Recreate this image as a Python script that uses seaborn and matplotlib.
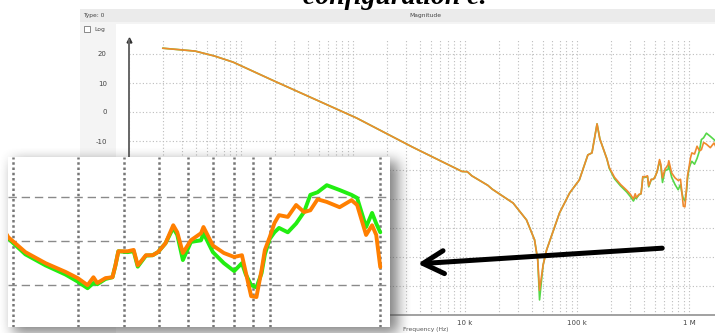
import matplotlib
matplotlib.use("Agg")
import matplotlib.pyplot as plt
import numpy as np
import pandas as pd
import seaborn as sns
from matplotlib.patches import Rectangle, FancyArrowPatch
from matplotlib.ticker import FixedLocator, LogLocator, NullFormatter

# ---------------------------------------------------------------- data
freq_hz = [
    20, 39, 58, 85, 190, 1.08e3, 3.4e3, 9.4e3, 1.05e4, 1.15e4, 1.6e4, 1.75e4,
    2.69e4, 3.54e4, 4.18e4, 4.46e4, 4.63e4, 4.98e4, 5.35e4, 6.98e4, 8.6e4,
    1.05e5, 1.25e5, 1.36e5, 1.51e5, 1.6e5, 1.85e5,
    1.94e5, 2.16e5, 2.45e5, 2.78e5, 3.0e5, 3.19e5, 3.31e5, 3.39e5, 3.57e5, 3.73e5,
    3.8e5, 3.87e5, 4.1e5, 4.26e5, 4.37e5, 4.6e5, 4.8e5, 4.96e5, 5.2e5, 5.46e5,
    5.6e5, 5.8e5, 6.1e5, 6.5e5, 6.6e5, 7.0e5, 7.5e5, 8.0e5, 8.4e5, 8.6e5,
    8.9e5, 9.2e5, 9.5e5, 9.7e5, 1.0e6, 1.03e6, 1.06e6, 1.12e6, 1.18e6, 1.24e6,
    1.29e6, 1.35e6, 1.43e6, 1.55e6, 1.67e6, 1.73e6, 1.83e6, 1.9e6, 1.95e6, 2.0e6,
]
trace_orange_db = [
    22.0, 21.0, 19.3, 17.2, 11.0, -2.1, -12.1, -20.5, -20.6, -22.0, -25.3, -26.6,
    -31.4, -37.2, -44.1, -51.0, -61.5, -52.8, -47.6, -34.8, -27.9,
    -23.4, -14.8, -14.1, -4.1, -9.3, -16.2,
    -19.1, -22.5, -25.0, -27.0, -28.4, -30.0, -28.2, -29.5, -28.4, -28.2,
    -25.5, -22.3, -22.3, -22.0, -25.5, -23.2, -23.2, -22.5, -20.5, -16.4,
    -18.0, -22.7, -19.8, -18.2, -16.8, -21.0, -22.7, -23.6, -23.2, -27.0,
    -32.5, -32.7, -26.6, -22.0, -19.1, -15.9, -14.1, -14.5, -11.8, -13.4,
    -13.0, -10.5, -11.1, -12.3, -10.7, -11.8, -18.6, -16.4, -18.6, -25.9,
]
trace_green_db = [
    22.0, 21.0, 19.3, 17.2, 11.0, -2.1, -12.1, -20.5, -20.6, -22.0, -25.3, -26.6,
    -31.4, -37.2, -44.1, -51.0, -64.8, -52.8, -47.6, -34.8, -27.9,
    -23.4, -14.8, -14.1, -4.1, -9.3, -16.2,
    -19.4, -23.0, -25.5, -27.6, -29.2, -30.7, -29.5, -29.8, -28.6, -28.2,
    -25.5, -22.3, -22.5, -22.3, -25.8, -23.3, -23.2, -22.5, -20.5, -17.0,
    -18.6, -24.3, -20.2, -19.8, -18.2, -22.5, -25.0, -26.8, -25.0, -27.5,
    -30.0, -30.5, -27.3, -23.0, -19.5, -18.0, -17.0, -18.0, -16.0, -13.4,
    -9.5, -8.9, -7.3, -8.4, -9.5, -10.2, -16.8, -13.6, -16.0, -18.0,
]
main_decades = [10, 100, 1e3, 1e4, 1e5, 1e6]
main_decade_labels = ["10", "100", "1 k", "10 k", "100 k", "1 M"]
main_db_ticks = [20, 10, 0, -10, -20, -30, -40, -50, -60]
zoom_freq_grid = [2e5, 3e5, 4e5, 5e5, 6e5, 7e5, 8e5, 9e5, 1e6, 2e6]
zoom_db_grid = [-10, -20, -30]

df = pd.DataFrame({"freq": freq_hz, "orange": trace_orange_db, "green": trace_green_db})

# ---------------------------------------------------------------- figure
W, H = 715, 333
sns.set_style("white")
plt.rcParams["font.family"] = ["DejaVu Sans"]
plt.rcParams["axes.unicode_minus"] = False


def box(x0, y0, x1, y1):
    return [x0 / W, 1 - y1 / H, (x1 - x0) / W, (y1 - y0) / H]


def frect(x0, y0, x1, y1, **kw):
    fig.add_artist(Rectangle((x0 / W, 1 - y1 / H), (x1 - x0) / W, (y1 - y0) / H,
                             transform=fig.transFigure, **kw))


fig = plt.figure(figsize=(W / 100, H / 100), dpi=100)
fig.patch.set_facecolor("white")

# application window behind the plot
frect(80, 9, 715, 333, facecolor="#f4f4f4", edgecolor="none", zorder=-5)
frect(80, 9, 715, 22, facecolor="#ebebeb", edgecolor="none", zorder=-4)
frect(116, 24, 715, 333, facecolor="white", edgecolor="none", zorder=-4)
frect(84, 26, 90, 32, facecolor="white", edgecolor="#777777", lw=0.6, zorder=-3)
fig.text(83 / W, 1 - 15 / H, "Type: 0", fontsize=4.3, color="#444444", va="center")
fig.text(425 / W, 1 - 15 / H, "Magnitude", fontsize=4.3, color="#444444",
         va="center", ha="center")
fig.text(94 / W, 1 - 29 / H, "Log", fontsize=4.3, color="#444444", va="center")
fig.text(403 / W, 1 - 330 / H, "Frequency (Hz)", fontsize=4.3, color="#555555",
         va="center")

fig.text(303 / W, 1 - 4 / H, "configuration c.", fontsize=20, fontweight="bold",
         fontstyle="italic", family=["Liberation Serif", "DejaVu Serif"],
         color="black", va="baseline", ha="left")

# ---------------------------------------------------------------- main magnitude plot
ax = fig.add_axes(box(129, 40, 715, 315))
ax.set_zorder(0)
ax.set_facecolor("white")
ax.set_xscale("log")
ax.set_xlim(10, 10 ** (1 + 586 / 112))
ax.set_ylim(-70, 20 + 14 / 2.9)

sns.lineplot(data=df, x="freq", y="green", ax=ax, color="#55d848", lw=1.2,
             estimator=None, sort=False)
sns.lineplot(data=df, x="freq", y="orange", ax=ax, color="#ef8a2e", lw=1.2,
             estimator=None, sort=False)
ax.set_xlabel("")
ax.set_ylabel("")

ax.xaxis.set_major_locator(FixedLocator(main_decades))
ax.set_xticklabels(main_decade_labels)
ax.xaxis.set_minor_locator(LogLocator(base=10, subs=range(2, 10)))
ax.xaxis.set_minor_formatter(NullFormatter())
ax.set_yticks(main_db_ticks)
ax.grid(True, which="both", axis="x", color="#bdbdbd", lw=0.8, ls=(0, (1, 2)))
ax.grid(True, which="major", axis="y", color="#bdbdbd", lw=0.8, ls=(0, (1, 2)))
ax.tick_params(axis="both", which="both", length=0)
ax.tick_params(axis="y", pad=16, labelsize=5, labelcolor="#444444")
ax.tick_params(axis="x", pad=3.5, labelsize=5, labelcolor="#444444")
for side in ("top", "right"):
    ax.spines[side].set_visible(False)
ax.spines["left"].set_color("#666666")
ax.spines["left"].set_linewidth(1.4)
ax.spines["bottom"].set_color("#9a9a9a")
ax.spines["bottom"].set_linewidth(1.3)
ax.plot([0], [1.0], marker="^", color="#333333", markersize=3.5,
        transform=ax.transAxes, clip_on=False)

# ---------------------------------------------------------------- soft shadow under the zoom box
pad = 30
mask = np.zeros((H + 2 * pad, W + 2 * pad))
mask[157 + 4 + pad:327 + 6 + pad, 8 + 5 + pad:390 + 8 + pad] = 1.0
kern = np.ones(15) / 15.0
for _ in range(2):
    mask = np.apply_along_axis(lambda v: np.convolve(v, kern, mode="same"), 0, mask)
    mask = np.apply_along_axis(lambda v: np.convolve(v, kern, mode="same"), 1, mask)
mask = mask[pad:pad + H, pad:pad + W]
shadow = np.zeros((H, W, 4))
shadow[..., :3] = 0.25
shadow[..., 3] = 0.65 * mask
fig.figimage(shadow, xo=0, yo=0, origin="upper", zorder=1)

# ---------------------------------------------------------------- zoom box
axi = fig.add_axes(box(8, 157, 390, 327))
axi.set_zorder(2)
axi.set_facecolor("white")
axi.set_xscale("log")
axi.set_xlim(1.937e5, 2.126e6)
axi.set_ylim(-39.5, -0.9)
for f in zoom_freq_grid:
    axi.axvline(f, color="#767676", lw=1.8, ls=(0, (1, 1.1)), zorder=1)
for d in zoom_db_grid:
    axi.axhline(d, color="#8a8a8a", lw=1.0, ls=(0, (6, 3.5)), zorder=1)
sns.lineplot(data=df, x="freq", y="green", ax=axi, color="#22ee11", lw=2.8,
             estimator=None, sort=False, zorder=3)
sns.lineplot(data=df, x="freq", y="orange", ax=axi, color="#ff7f00", lw=2.8,
             estimator=None, sort=False, zorder=4)
axi.set_xlabel("")
axi.set_ylabel("")
axi.set_xticks([])
axi.set_yticks([])
axi.minorticks_off()
axi.tick_params(which="both", length=0, labelbottom=False, labelleft=False)
for s in axi.spines.values():
    s.set_visible(False)

# ---------------------------------------------------------------- pointer arrow
arrow = FancyArrowPatch((665 / W, 1 - 248 / H), (415 / W, 1 - 264 / H),
                        transform=fig.transFigure,
                        arrowstyle="->,head_length=1.0,head_width=0.55",
                        mutation_scale=15, color="black", lw=3.6,
                        capstyle="round", joinstyle="round", zorder=5)
fig.add_artist(arrow)

fig.savefig("out.png", dpi=100)
